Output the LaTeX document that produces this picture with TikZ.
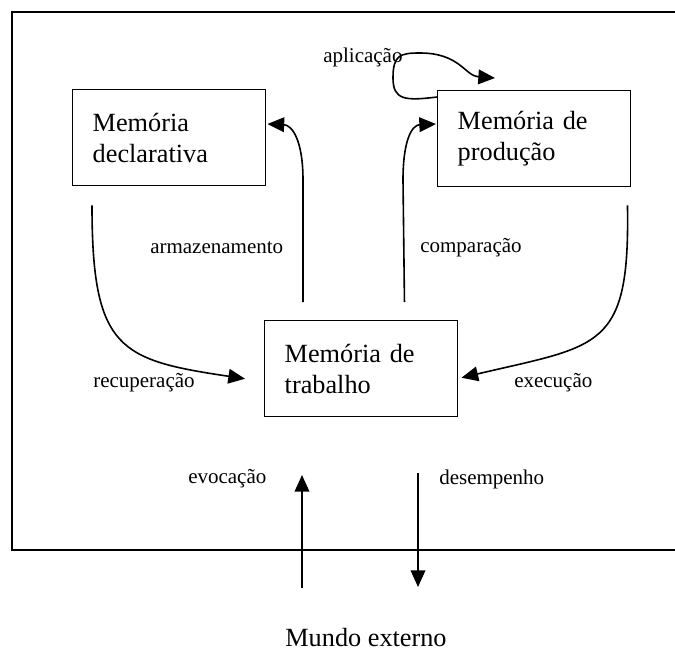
\documentclass[tikz,border=0pt]{standalone}
\usepackage{fontspec}
\setmainfont{Liberation Serif}
\usetikzlibrary{arrows.meta,calc}
\begin{document}
\begin{tikzpicture}[x=0.75pt,y=-0.75pt,
  membox/.style={draw,line width=1.1pt,rectangle,anchor=north west,
    minimum width=193*0.75pt,minimum height=96*0.75pt,
    text width=153*0.75pt,align=left,inner xsep=20*0.75pt,inner ysep=0pt,
    font=\fontsize{19.7pt}{23pt}\selectfont},
  lbl/.style={inner sep=0pt,anchor=west,font=\fontsize{15.75pt}{18pt}\selectfont},
  conn/.style={line width=1.2pt,-{Triangle[length=12.5pt,width=11pt]}},
  frame/.style={line width=1.5pt}]
\useasboundingbox (0,0) rectangle (675,664);
% outer frame
\coordinate (fTR) at (680,12);
\coordinate (fTL) at (12,12);
\coordinate (fBL) at (12,550);
\coordinate (fBR) at (680,550);
\draw[frame] (fTR) -- (fTL) -- (fBL) -- (fBR);
% boxes
\node[membox] (decl) at (72,89) {Memória\\declarativa};
\node[membox] (prod) at (437,90) {Memória de\\produção};
\node[membox] (trab) at (264,320) {Memória de\\trabalho};
% connectors
\draw[conn] ($(decl.south west)+(20,19)$) .. controls (92,350) and (120,360) .. ($(trab.west)+(-19,10)$);
\draw[conn] ($(trab.north west)+(39,-18)$) -- (303,180) .. controls (303,140) and (292,125) .. ($(decl.north east)+(1,35)$);
\draw[conn] ($(trab.north east)+(-54,-18)$) -- (403,180) .. controls (403,140) and (412,125) .. ($(prod.north west)+(-1,34)$);
\draw[conn] ($(prod.south east)+(-4,18)$) .. controls (630,350) and (600,345) .. ($(trab.east)+(3,9)$);
\coordinate (apTip) at (495,78);
\draw[conn] ($(prod.north west)+(0,7)$) .. controls (405,101) and (393,100) .. (393,78) .. controls (393,55) and (400,53) .. (420,53) .. controls (460,53) and (465,76) .. (apTip);
\coordinate (evS) at (302,588);
\coordinate (evE) at (302,475);
\draw[conn] (evS) -- (evE);
\coordinate (deS) at (418,473);
\coordinate (deE) at (418,587);
\draw[conn] (deS) -- (deE);
% labels
\node[lbl] (lapl) at (323,57) {aplicação};
\node[lbl] (larm) at (150,248) {armazenamento};
\node[lbl] (lcmp) at (420,248) {comparação};
\node[lbl] (lrec) at (93,383) {recuperação};
\node[lbl] (lexe) at (514,383) {execução};
\node[lbl] (levo) at (188,479) {evocação};
\node[lbl] (ldes) at (439,479) {desempenho};
\node[inner sep=0pt,font=\fontsize{19.7pt}{23pt}\selectfont] (mundo) at (366,638) {Mundo externo};
\end{tikzpicture}
\end{document}
